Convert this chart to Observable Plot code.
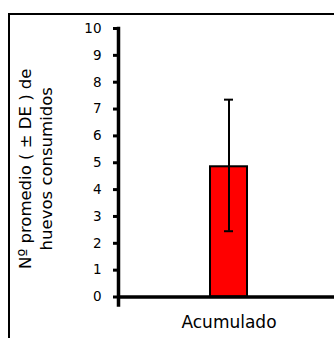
<!DOCTYPE html>
<html>
<head>
<meta charset="utf-8">
<script src="https://cdn.jsdelivr.net/npm/d3@7"></script>
<script src="https://cdn.jsdelivr.net/npm/@observablehq/plot@0.6"></script>
<style>
  html, body { margin: 0; padding: 0; background: #fff; }
  #wrap { position: relative; width: 334px; height: 338px; overflow: hidden; }
  #border { position: absolute; left: 8px; top: 13px; width: 400px; height: 400px;
            border-left: 2px solid #000; border-top: 2px solid #000; }
  #chart { position: absolute; left: 0; top: 0; }
  svg { overflow: hidden; }
  g[aria-label="y-axis tick"], g[aria-label="y-axis tick"] path { stroke-width: 3px !important; stroke: #000 !important; }
  g[aria-label="y-axis tick label"], g[aria-label="y-axis tick label"] text { font-size: 13.5px !important; }
  g[aria-label="x-axis tick label"], g[aria-label="x-axis tick label"] text { font-size: 17px !important; }
</style>
</head>
<body>
<div id="wrap"><div id="border"></div><div id="chart"></div></div>
<script>
const categories = ["Acumulado"];
const means = [4.85];
const sdLow = [2.45];
const sdHigh = [7.35];
const yTicks = [0, 1, 2, 3, 4, 5, 6, 7, 8, 9, 10];
const yTitle = "Nº promedio ( ± DE ) de\nhuevos consumidos";

const data = categories.map((c, i) => ({cat: c, mean: means[i], lo: sdLow[i], hi: sdHigh[i]}));

const chart = Plot.plot({
  width: 334,
  height: 338,
  marginLeft: 118,
  marginRight: -4,
  marginTop: 28,
  marginBottom: 41.5,
  style: {fontFamily: "DejaVu Sans", fontSize: "13.5px", background: "transparent", color: "#000"},
  x: {domain: categories, padding: 0.712, label: null},
  y: {domain: [0, 10], label: null},
  marks: [
    Plot.barY(data, {x: "cat", y: "mean", fill: "#ff0000", stroke: "#000", strokeWidth: 2}),
    Plot.ruleX(data, {x: "cat", y1: "lo", y2: "hi", stroke: "#000", strokeWidth: 2}),
    Plot.tickY(data, {x: "cat", y: "lo", stroke: "#000", strokeWidth: 2, insetLeft: 14, insetRight: 14}),
    Plot.tickY(data, {x: "cat", y: "hi", stroke: "#000", strokeWidth: 2, insetLeft: 14, insetRight: 14}),
    Plot.ruleY([0], {stroke: "#000", strokeWidth: 3.5}),
    Plot.frame({anchor: "left", stroke: "#000", strokeWidth: 3.5, insetBottom: -8}),
    Plot.axisY({ticks: yTicks, tickSize: 5, tickPadding: 12, strokeWidth: 3, fontSize: 13.5, tickFormat: d => String(d), label: null}),
    Plot.axisX({tickSize: 0, tickPadding: 19, fontSize: 17, label: null}),
    Plot.text([yTitle], {text: d => d, frameAnchor: "left", rotate: -90, dx: -84, dy: 6,
      fontSize: 16.5, lineHeight: 1.3, textAnchor: "middle", lineAnchor: "middle", fill: "#000"})
  ]
});
document.getElementById("chart").appendChild(chart);
</script>
</body>
</html>
